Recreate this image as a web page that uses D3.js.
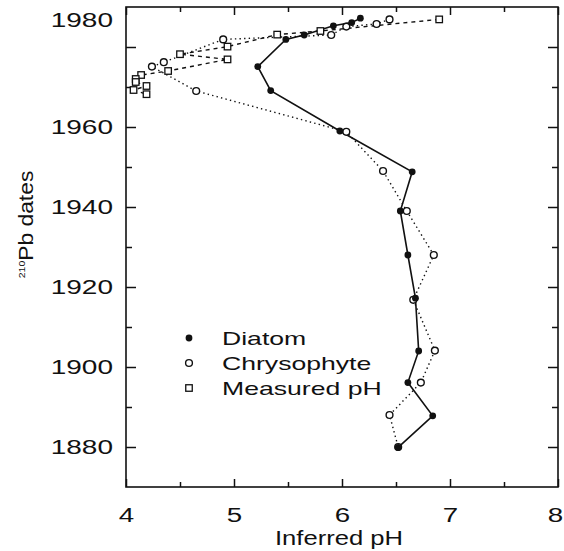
<!DOCTYPE html>
<html>
<head>
<meta charset="utf-8">
<script src="https://cdn.jsdelivr.net/npm/d3@7"></script>
<style>
  html, body { margin: 0; padding: 0; background: #fff; }
  text { font-family: "Liberation Sans", Arial, sans-serif; fill: #111; }
</style>
</head>
<body>
<script>
// ---------- data ----------
const diatomYears = [1987.2, 1986.1, 1985.3, 1983.0, 1981.9, 1975.1, 1969.1, 1959.0, 1948.8, 1939.0, 1928.0, 1917.2, 1904.0, 1896.1, 1887.8, 1879.9];
const diatomPH    = [6.17,   6.09,   5.92,   5.65,   5.48,   5.22,   5.34,   5.98,   6.65,   6.54,   6.61,   6.68,   6.71,   6.61,   6.84,   6.52];

const chrysoYears = [1986.9, 1985.75, 1985.1, 1983.0, 1981.9, 1976.2, 1975.1, 1969.0, 1958.8, 1949.0, 1939.0, 1928.0, 1916.8, 1904.1, 1896.1, 1888.0, 1880.0];
const chrysoPH    = [6.44,   6.32,    6.04,   5.90,   4.90,   4.35,   4.24,   4.65,   6.04,   6.38,   6.60,   6.85,   6.66,   6.86,   6.73,   6.44,   6.52];

const measuredYears = [1986.9, 1984.0, 1983.1, 1980.1, 1978.2, 1976.9, 1974.0, 1973.0, 1972.0, 1971.25, 1970.25, 1969.25, 1968.2];
const measuredPH    = [6.90,   5.80,   5.40,   4.94,   4.50,   4.94,   4.39,   4.14,   4.09,   4.09,    4.19,    4.07,    4.19];

const yMajorTicks = [1880, 1900, 1920, 1940, 1960, 1980];
const yMinorTicks = [1890, 1910, 1930, 1950, 1970];
const xMajorTicks = [4, 5, 6, 7, 8];
const xMinorTicks = [4.5, 5.5, 6.5, 7.5];
const legendLabels = ["Diatom", "Chrysophyte", "Measured pH"];
const xTitle = "Inferred pH";
const yTitleSup = "210";
const yTitleMain = "Pb dates";

// ---------- layout ----------
const W = 564, H = 551;
const svg = d3.select("body").append("svg").attr("width", W).attr("height", H);

const x = d3.scaleLinear().domain([4, 8]).range([126, 558]);
const y = d3.scaleLinear().domain([1870, 1990]).range([487, 7]);

const zip = (ys, ps) => ys.map((yr, i) => ({ year: yr, ph: ps[i] }));
const diatom = zip(diatomYears, diatomPH);
const chryso = zip(chrysoYears, chrysoPH);
const measured = zip(measuredYears, measuredPH);

// frame
svg.append("rect")
  .attr("x", x(4)).attr("y", y(1990))
  .attr("width", x(8) - x(4)).attr("height", y(1870) - y(1990))
  .attr("fill", "none").attr("stroke", "#111").attr("stroke-width", 1.6);

function styleAxis(g) {
  g.select(".domain").remove();
  g.selectAll(".tick line").attr("stroke", "#111").attr("stroke-width", 1.5);
}

// left axis
const leftMajor = svg.append("g").attr("transform", `translate(${x(4)},0)`)
  .call(d3.axisLeft(y).tickValues(yMajorTicks).tickSize(-10).tickPadding(13).tickFormat(d3.format("d")));
styleAxis(leftMajor);
leftMajor.selectAll(".tick text")
  .attr("font-size", 20)
  .attr("font-family", "Liberation Sans, Arial, sans-serif")
  .attr("fill", "#111")
  .attr("transform", "scale(1.4,1)")
  .attr("x", -13 / 1.4);
leftMajor.selectAll(".tick text").filter(d => d === 1980).attr("y", -27);

const leftMinor = svg.append("g").attr("transform", `translate(${x(4)},0)`)
  .call(d3.axisLeft(y).tickValues(yMinorTicks).tickSize(-6).tickFormat(""));
styleAxis(leftMinor);

// right axis
const rightMajor = svg.append("g").attr("transform", `translate(${x(8)},0)`)
  .call(d3.axisRight(y).tickValues(yMajorTicks).tickSize(-10).tickFormat(""));
styleAxis(rightMajor);
const rightMinor = svg.append("g").attr("transform", `translate(${x(8)},0)`)
  .call(d3.axisRight(y).tickValues(yMinorTicks).tickSize(-6).tickFormat(""));
styleAxis(rightMinor);

// bottom axis
const bottomMajor = svg.append("g").attr("transform", `translate(0,${y(1870)})`)
  .call(d3.axisBottom(x).tickValues(xMajorTicks).tickSize(-8).tickPadding(20).tickFormat(d3.format("d")));
styleAxis(bottomMajor);
bottomMajor.selectAll(".tick text")
  .attr("font-size", 21)
  .attr("font-family", "Liberation Sans, Arial, sans-serif")
  .attr("fill", "#111")
  .attr("transform", "scale(1.32,1)");
bottomMajor.selectAll(".tick text").filter(d => d === 8).attr("x", -3 / 1.32);
const bottomMinor = svg.append("g").attr("transform", `translate(0,${y(1870)})`)
  .call(d3.axisBottom(x).tickValues(xMinorTicks).tickSize(-5).tickFormat(""));
styleAxis(bottomMinor);

// top axis
const topMajor = svg.append("g").attr("transform", `translate(0,${y(1990)})`)
  .call(d3.axisTop(x).tickValues(xMajorTicks).tickSize(-8).tickFormat(""));
styleAxis(topMajor);
const topMinor = svg.append("g").attr("transform", `translate(0,${y(1990)})`)
  .call(d3.axisTop(x).tickValues(xMinorTicks).tickSize(-5).tickFormat(""));
styleAxis(topMinor);

// axis titles
svg.append("text")
  .attr("transform", `translate(${(x(4) + x(8)) / 2 - 3},545) scale(1.22,1)`)
  .attr("text-anchor", "middle")
  .attr("font-size", 21)
  .text(xTitle);

const yt = svg.append("text")
  .attr("transform", `translate(33,224.5) rotate(-90) scale(1.17,1)`)
  .attr("text-anchor", "middle")
  .attr("font-size", 19.5);
yt.append("tspan").attr("font-size", 9).attr("dy", -8).text(yTitleSup);
yt.append("tspan").attr("dy", 8).text(yTitleMain);

// lines
const line = d3.line().x(d => x(d.ph)).y(d => y(d.year));
svg.append("path").datum(chryso).attr("d", line)
  .attr("fill", "none").attr("stroke", "#111").attr("stroke-width", 1.4)
  .attr("stroke-dasharray", "1.4,3.2");
svg.append("path").datum(measured).attr("d", line)
  .attr("fill", "none").attr("stroke", "#111").attr("stroke-width", 1.4)
  .attr("stroke-dasharray", "4,4");
svg.append("path").datum(diatom).attr("d", line)
  .attr("fill", "none").attr("stroke", "#111").attr("stroke-width", 1.6);

// markers
const sq = 6.5;
svg.append("g").selectAll("circle").data(chryso).join("circle")
  .attr("cx", d => x(d.ph)).attr("cy", d => y(d.year)).attr("r", 3.4)
  .attr("fill", "#fff").attr("stroke", "#111").attr("stroke-width", 1.4);
svg.append("g").selectAll("rect").data(measured).join("rect")
  .attr("x", d => x(d.ph) - sq / 2).attr("y", d => y(d.year) - sq / 2)
  .attr("width", sq).attr("height", sq)
  .attr("fill", "#fff").attr("stroke", "#111").attr("stroke-width", 1.3);
svg.append("g").selectAll("circle").data(diatom).join("circle")
  .attr("cx", d => x(d.ph)).attr("cy", d => y(d.year)).attr("r", 3.4)
  .attr("fill", "#111");

// legend
const legX = 189, legTextX = 222, legY0 = 345, legDy = 25;
const leg = svg.append("g");
legendLabels.forEach((lab, i) => {
  const by = legY0 + i * legDy;
  const cy = by - 7;
  if (i === 0) {
    leg.append("circle").attr("cx", legX).attr("cy", cy).attr("r", 3.4).attr("fill", "#111");
  } else if (i === 1) {
    leg.append("circle").attr("cx", legX).attr("cy", cy).attr("r", 3.4)
      .attr("fill", "#fff").attr("stroke", "#111").attr("stroke-width", 1.4);
  } else {
    leg.append("rect").attr("x", legX - sq / 2).attr("y", cy - sq / 2)
      .attr("width", sq).attr("height", sq)
      .attr("fill", "#fff").attr("stroke", "#111").attr("stroke-width", 1.3);
  }
  leg.append("text")
    .attr("transform", `translate(${legTextX},${by}) scale(1.4,1)`)
    .attr("font-size", 19)
    .text(lab);
});
</script>
</body>
</html>
